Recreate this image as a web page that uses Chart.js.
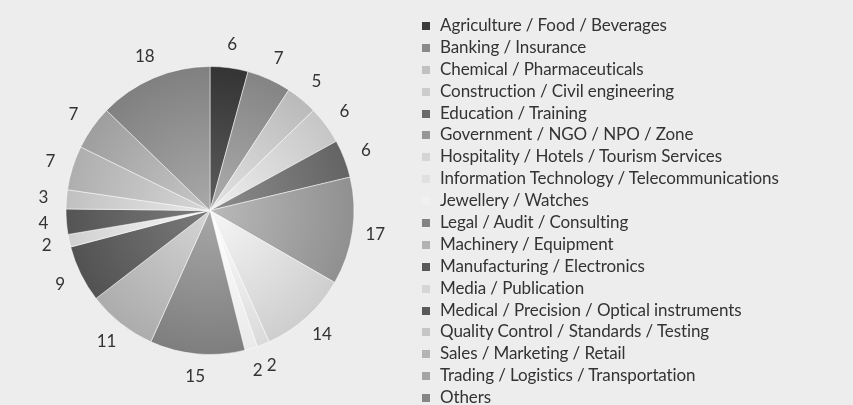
<!DOCTYPE html>
<html>
<head>
<meta charset="utf-8">
<script src="https://cdn.jsdelivr.net/npm/chart.js@4"></script>
<style>
  body { margin: 0; background: #ededed; width: 853px; height: 405px; overflow: hidden; position: relative; }
  #pieBox { position: absolute; left: 0; top: 0; width: 425px; height: 405px; }
  #legend { position: absolute; left: 422px; top: 14px; font-family: Lato, "Open Sans", sans-serif; font-size: 17px; color: #333; letter-spacing: -0.1px; }
  #legend div { height: 21.9px; line-height: 21.9px; white-space: nowrap; }
  #legend span { display: inline-block; width: 8px; height: 8px; margin-right: 10px; vertical-align: 1px; }
</style>
</head>
<body>
<div id="pieBox"><canvas id="piechart"></canvas></div>
<div id="legend"></div>
<script>
// Industries and number of answers per industry
const branchen = [
  'Agriculture / Food / Beverages',
  'Banking / Insurance',
  'Chemical / Pharmaceuticals',
  'Construction / Civil engineering',
  'Education / Training',
  'Government / NGO / NPO / Zone',
  'Hospitality / Hotels / Tourism Services',
  'Information Technology / Telecommunications',
  'Jewellery / Watches',
  'Legal / Audit / Consulting',
  'Machinery / Equipment',
  'Manufacturing / Electronics',
  'Media / Publication',
  'Medical / Precision / Optical instruments',
  'Quality Control / Standards / Testing',
  'Sales / Marketing / Retail',
  'Trading / Logistics / Transportation',
  'Others'
];
const anzahl = [6, 7, 5, 6, 6, 17, 14, 2, 2, 15, 11, 9, 2, 4, 3, 7, 7, 18];

// grey shades of the scanned print
const grau = [58, 138, 192, 204, 106, 150, 212, 224, 240, 132, 178, 88, 214, 90, 198, 180, 164, 134];

function shade(g, d) {
  const v = Math.max(0, Math.min(255, g + d));
  return 'rgb(' + v + ',' + v + ',' + v + ')';
}

// Pie slices get a light radial shading towards the middle
function sliceColor(context) {
  const chart = context.chart;
  const area = chart.chartArea;
  const g = grau[context.dataIndex];
  if (!area) return shade(g, 0);
  const cx = (area.left + area.right) / 2;
  const cy = (area.top + area.bottom) / 2;
  const grad = chart.ctx.createRadialGradient(cx, cy, 0, cx, cy, 144);
  grad.addColorStop(0, shade(g, 35));
  grad.addColorStop(1, shade(g, -6));
  return grad;
}

// Draw the value next to every slice
const wertLabels = {
  id: 'wertLabels',
  afterDatasetsDraw(chart) {
    const ctx = chart.ctx;
    const meta = chart.getDatasetMeta(0);
    ctx.save();
    ctx.font = '17px Lato, "Open Sans", sans-serif';
    ctx.fillStyle = '#333';
    ctx.textAlign = 'center';
    ctx.textBaseline = 'middle';
    meta.data.forEach((arc, i) => {
      const mid = (arc.startAngle + arc.endAngle) / 2;
      const r = arc.outerRadius + 23;
      ctx.fillText(String(anzahl[i]), arc.x + Math.cos(mid) * r, arc.y + Math.sin(mid) * r);
    });
    ctx.restore();
  }
};

const piechart = new Chart(document.getElementById('piechart'), {
  type: 'pie',
  data: {
    labels: branchen,
    datasets: [{
      data: anzahl,
      backgroundColor: sliceColor,
      borderColor: 'rgba(255,255,255,0.5)',
      borderWidth: 1,
      radius: 144
    }]
  },
  options: {
    responsive: true,
    maintainAspectRatio: false,
    animation: false,
    layout: { padding: { left: 0, right: 5, top: 16, bottom: 0 } },
    plugins: {
      legend: { display: false },
      tooltip: { enabled: false }
    }
  },
  plugins: [wertLabels]
});

// Legend on the right, one row per industry
const legendDiv = document.getElementById('legend');
branchen.forEach((name, i) => {
  const row = document.createElement('div');
  const box = document.createElement('span');
  box.style.background = shade(grau[i], 0);
  row.appendChild(box);
  row.appendChild(document.createTextNode(name));
  legendDiv.appendChild(row);
});
</script>
</body>
</html>
